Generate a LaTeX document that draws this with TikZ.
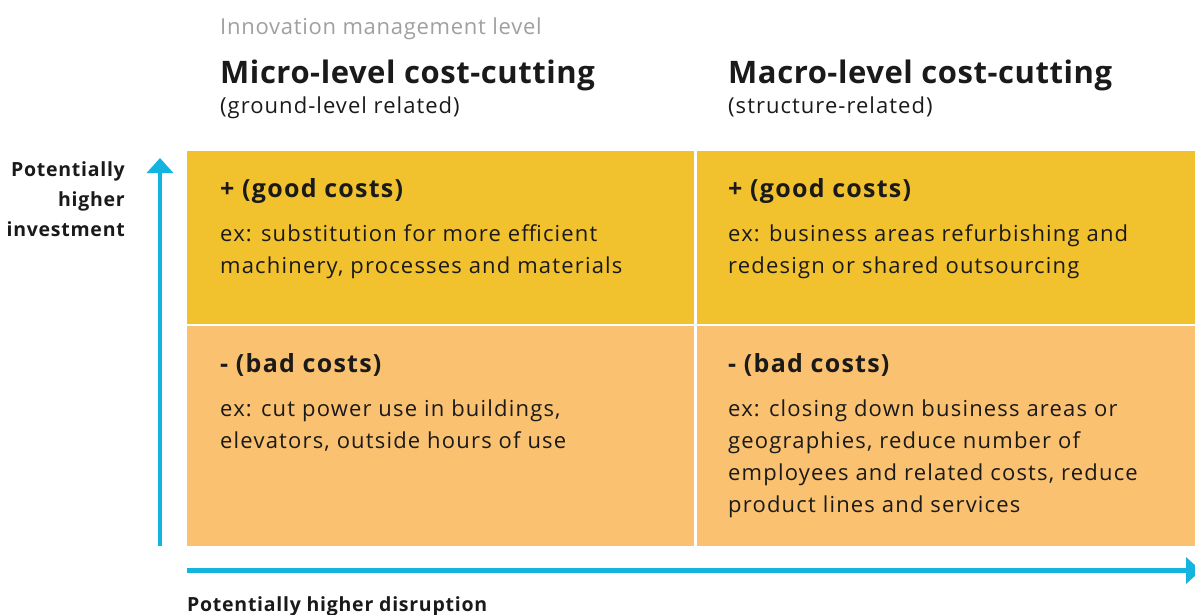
\documentclass[tikz,border=0pt]{standalone}
\usepackage{fontspec}
\setmainfont{Open Sans}
\usetikzlibrary{arrows.meta}
\definecolor{goodc}{HTML}{F2C12E}
\definecolor{badc}{HTML}{F9C170}
\definecolor{arrowc}{HTML}{14B4E0}
\definecolor{txt}{HTML}{1A1A1A}
\definecolor{graytxt}{HTML}{A0A0A0}
\newcommand{\lsp}[1]{\addfontfeatures{LetterSpace=#1}}
\begin{document}
\begin{tikzpicture}[x=1pt,y=-1pt,
  cell/.style={draw=none,inner sep=0pt,anchor=north west},
  txtnode/.style={inner sep=0pt,anchor=base west,text=txt,align=left},
  headbig/.style={txtnode,font=\fontsize{31}{36}\selectfont\bfseries\lsp{1.8}},
  headsub/.style={txtnode,font=\fontsize{22}{30}\selectfont\lsp{4.7}},
  costhead/.style={txtnode,font=\fontsize{25}{30}\selectfont\bfseries\lsp{5}},
  costtext/.style={txtnode,font=\fontsize{22}{32}\selectfont\lsp{5.4}},
  axislabel/.style={inner sep=0pt,text=txt,font=\fontsize{19.5}{30}\selectfont\bfseries\lsp{3.8}},
  axisarrow/.style={draw=arrowc,line width=4.5pt,-{Triangle[length=15pt,width=26pt]}}
]
\useasboundingbox (0,0) rectangle (1195,614);
\fill[white] (0,0) rectangle (1195,614);

% cells
\node[cell,fill=goodc,minimum width=507pt,minimum height=173pt] (tl) at (187,151) {};
\node[cell,fill=goodc,minimum width=499pt,minimum height=173pt] (tr) at (696.5,151) {};
\node[cell,fill=badc,minimum width=507pt,minimum height=220pt] (bl) at (187,326) {};
\node[cell,fill=badc,minimum width=499pt,minimum height=220pt] (br) at (696.5,326) {};

% headers
\node[txtnode,text=graytxt,font=\fontsize{22}{30}\selectfont\lsp{3.3}] (lvl) at (220,34) {Innovation management level};
\node[headbig] (micro) at (220,83) {Micro-level cost-cutting};
\node[headsub] (microsub) at (220,113) {(ground-level related)};
\node[headbig] (macro) at (728,83) {Macro-level cost-cutting};
\node[headsub] (macrosub) at (728,113) {(structure-related)};

% cell texts (base anchor = baseline of last line)
\node[costhead] (g1) at (220,197) {+ (good costs)};
\node[costtext] (g1t) at (220,273) {ex: substitution for more efficient\\machinery, processes and materials};
\node[costhead] (g2) at (728,197) {+ (good costs)};
\node[costtext] (g2t) at (728,273) {ex: business areas refurbishing and\\redesign or shared outsourcing};
\node[costhead] (b1) at (220,372) {- (bad costs)};
\node[costtext] (b1t) at (220,448) {ex: cut power use in buildings,\\elevators, outside hours of use};
\node[costhead] (b2) at (728,372) {- (bad costs)};
\node[costtext] (b2t) at (728,512) {ex: closing down business areas or\\geographies, reduce number of\\employees and related costs, reduce\\product lines and services};

% axes
\coordinate (vstart) at (160,546);
\coordinate (vend) at (160,158);
\coordinate (hstart) at (187,570.5);
\coordinate (hend) at (1201,570.5);
\draw[axisarrow] (vstart) -- (vend);
\draw[axisarrow] (hstart) -- (hend);

\node[axislabel,anchor=base east,align=right] (ylab) at (125,236) {Potentially\\higher\\investment};
\node[axislabel,anchor=base west] (xlab) at (187,611) {Potentially higher disruption};
\end{tikzpicture}
\end{document}
